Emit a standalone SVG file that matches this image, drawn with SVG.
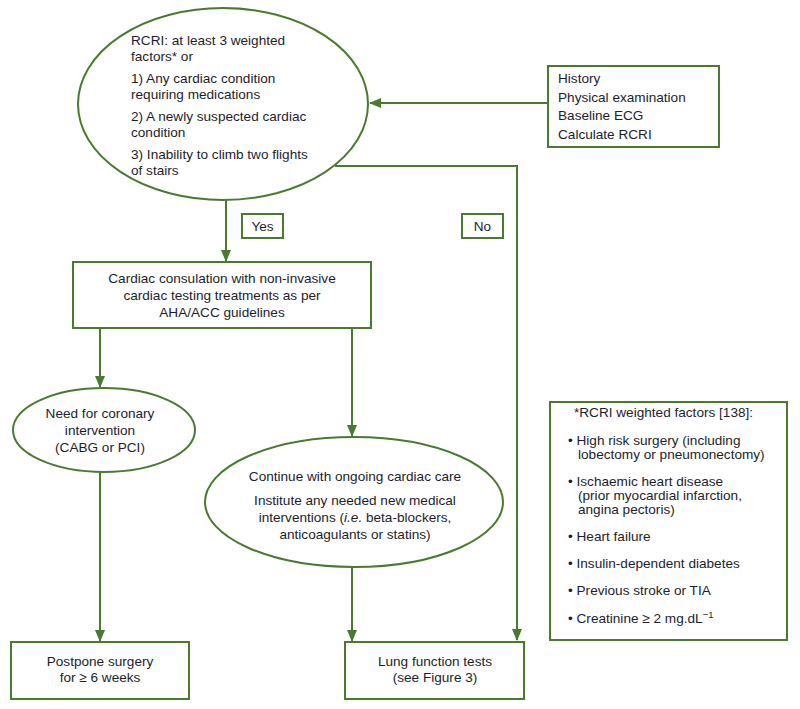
<svg xmlns="http://www.w3.org/2000/svg" width="800" height="709" viewBox="0 0 800 709">
<defs>
<style>
.s{fill:#fff;stroke:#4a7a2f;stroke-width:2}
.c{fill:none;stroke:#4a7a2f;stroke-width:2}
text{font-family:"Liberation Sans",Arial,sans-serif;font-size:13.6px;fill:#1d1d2b}
.m{text-anchor:middle}
</style>
<marker id="ah" markerWidth="12" markerHeight="10" refX="11" refY="5" orient="auto" markerUnits="userSpaceOnUse">
<path d="M0,0 L12,5 L0,10 Z" fill="#4a7a2f"/>
</marker>
</defs>
<rect width="800" height="709" fill="#fff"/>
<g id="connectors">
<path class="c" d="M548,103 H370" marker-end="url(#ah)"/>
<path class="c" d="M335,166 H517 V640" marker-end="url(#ah)"/>
<path class="c" d="M226,200 V261" marker-end="url(#ah)"/>
<path class="c" d="M100,328 V387" marker-end="url(#ah)"/>
<path class="c" d="M352,328 V436" marker-end="url(#ah)"/>
<path class="c" d="M100,472 V641" marker-end="url(#ah)"/>
<path class="c" d="M352,567 V641" marker-end="url(#ah)"/>
</g>
<g id="rcri">
<ellipse class="s" cx="223" cy="104" rx="145" ry="96"/>
<text x="131" y="45">RCRI: at least 3 weighted</text>
<text x="131" y="61">factors* or</text>
<text x="131" y="83">1) Any cardiac condition</text>
<text x="131" y="99">requiring medications</text>
<text x="131" y="121">2) A newly suspected cardiac</text>
<text x="131" y="137">condition</text>
<text x="131" y="159">3) Inability to climb two flights</text>
<text x="131" y="175">of stairs</text>
</g>
<g id="history">
<rect class="s" x="548" y="66" width="171" height="81"/>
<text x="558" y="83">History</text>
<text x="558" y="102">Physical examination</text>
<text x="558" y="120">Baseline ECG</text>
<text x="558" y="139">Calculate RCRI</text>
</g>
<g id="yes">
<rect class="s" x="242" y="214" width="41" height="24"/>
<text class="m" x="262.5" y="231">Yes</text>
</g>
<g id="no">
<rect class="s" x="462" y="214" width="41" height="24"/>
<text class="m" x="482.5" y="231">No</text>
</g>
<g id="consult">
<rect class="s" x="73" y="262" width="298" height="66"/>
<text class="m" x="222" y="283">Cardiac consulation with non-invasive</text>
<text class="m" x="222" y="300">cardiac testing treatments as per</text>
<text class="m" x="222" y="317">AHA/ACC guidelines</text>
</g>
<g id="coronary">
<ellipse class="s" cx="104" cy="430" rx="91" ry="42"/>
<text class="m" x="100" y="418">Need for coronary</text>
<text class="m" x="100" y="435">intervention</text>
<text class="m" x="100" y="452">(CABG or PCI)</text>
</g>
<g id="continue">
<ellipse class="s" cx="354" cy="502" rx="149" ry="65"/>
<text class="m" x="355" y="481">Continue with ongoing cardiac care</text>
<text class="m" x="355" y="505">Institute any needed new medical</text>
<text class="m" x="355" y="522">interventions (<tspan font-style="italic">i.e.</tspan> beta-blockers,</text>
<text class="m" x="355" y="539">anticoagulants or statins)</text>
</g>
<g id="factors">
<rect class="s" x="550" y="402" width="237" height="238"/>
<text x="574" y="417">*RCRI weighted factors [138]:</text>
<text x="568" y="445">• High risk surgery (including</text>
<text x="578" y="459">lobectomy or pneumonectomy)</text>
<text x="568" y="486">• Ischaemic heart disease</text>
<text x="578" y="500">(prior myocardial infarction,</text>
<text x="578" y="514">angina pectoris)</text>
<text x="568" y="541">• Heart failure</text>
<text x="568" y="568">• Insulin-dependent diabetes</text>
<text x="568" y="595">• Previous stroke or TIA</text>
<text x="568" y="623">• Creatinine ≥ 2 mg.dL<tspan dy="-5" font-size="9.5">−1</tspan></text>
</g>
<g id="postpone">
<rect class="s" x="11" y="642" width="178" height="57"/>
<text class="m" x="100" y="666">Postpone surgery</text>
<text class="m" x="100" y="682">for ≥ 6 weeks</text>
</g>
<g id="lung">
<rect class="s" x="345" y="642" width="179" height="57"/>
<text class="m" x="435" y="666">Lung function tests</text>
<text class="m" x="435" y="682">(see Figure 3)</text>
</g>
</svg>
